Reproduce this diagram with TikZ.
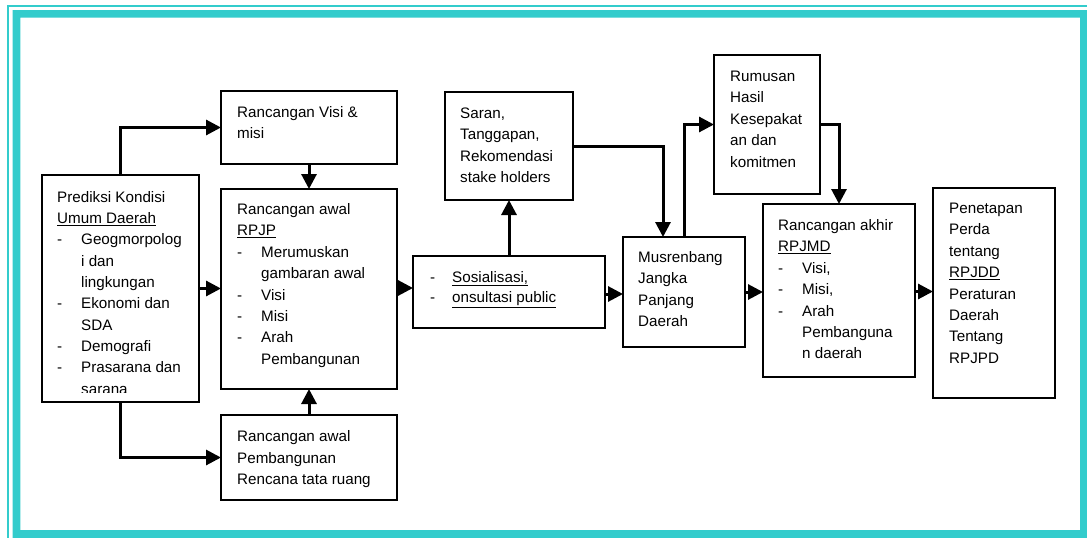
\documentclass[tikz,border=0pt]{standalone}
\usepackage{fontspec}
\setmainfont{Liberation Sans}
\usetikzlibrary{arrows.meta}
\definecolor{bordc}{RGB}{51,204,204}
\newcommand{\itm}{\makebox[24pt][l]{-}}
\newcommand{\ind}{\hspace*{24pt}}
\tikzset{
  box/.style={draw, line width=2.6pt, inner sep=0pt, outer sep=0pt},
  txt/.style={anchor=north west, inner sep=0pt, align=left, font=\fontsize{15.2}{21.35}\selectfont},
  arr/.style={line width=3pt, -{Triangle[length=15pt,width=15pt]}},
}
\begin{document}
\begin{tikzpicture}[x=1pt,y=-1pt]
\useasboundingbox (0,0) rectangle (1087,538);
\fill[white] (0,0) rectangle (1087,538);
% border
\fill[bordc, even odd rule] (12.7,10) rectangle (1087,538) (20.3,17.7) rectangle (1080,530);
\draw[bordc, line width=2.5pt] (8.2,538) -- (8.2,6) -- (1087,6);

% boxes
\node[box, minimum width=157pt, minimum height=227pt] (pred) at (120.5,288.5) {};
\node[box, minimum width=176pt, minimum height=73pt] (visi) at (309,127.5) {};
\node[box, minimum width=176pt, minimum height=200pt] (rpjp) at (309,289) {};
\node[box, minimum width=176pt, minimum height=85pt] (rtr) at (309,457.5) {};
\node[box, minimum width=128pt, minimum height=108pt] (saran) at (509,146) {};
\node[box, minimum width=192pt, minimum height=72pt] (sos) at (509,292) {};
\node[box, minimum width=122pt, minimum height=110pt] (mus) at (684,292) {};
\node[box, minimum width=106pt, minimum height=139pt] (rum) at (767,124.5) {};
\node[box, minimum width=152pt, minimum height=173pt] (akhir) at (839,290.5) {};
\node[box, minimum width=122pt, minimum height=210pt] (pen) at (994,293) {};

% texts
\begin{scope}
\clip (42,175) rectangle (199,392);
\node[txt] (predt) at (57,187) {\strut Prediksi Kondisi\\ \underline{Umum Daerah}\\ \itm Geogmorpolog\\ \ind i dan\\ \ind lingkungan\\ \itm Ekonomi dan\\ \ind SDA\\ \itm Demografi\\ \itm Prasarana dan\\ \ind sarana};
\end{scope}
\node[txt] (visit) at (237,102.5) {\strut Rancangan Visi \&\\ misi};
\node[txt] (rpjpt) at (237,199.5) {\strut Rancangan awal\\ \underline{RPJP}\\ \itm Merumuskan\\ \ind gambaran awal\\ \itm Visi\\ \itm Misi\\ \itm Arah\\ \ind Pembangunan};
\node[txt] (rtrt) at (237,426.5) {\strut Rancangan awal\\ Pembangunan\\ Rencana tata ruang};
\node[txt] (sarant) at (460,103.5) {\strut Saran,\\ Tanggapan,\\ Rekomendasi\\ stake holders};
\node[txt, font=\fontsize{15.2}{20.5}\selectfont] (sost) at (430,267.5) {\strut\makebox[22pt][l]{-}\underline{Sosialisasi,}\\ \makebox[22pt][l]{-}\underline{onsultasi public}};
\node[txt] (must) at (638,247.5) {\strut Musrenbang\\ Jangka\\ Panjang\\ Daerah};
\node[txt] (rumt) at (730,66.5) {\strut Rumusan\\ Hasil\\ Kesepakat\\ an dan\\ komitmen};
\node[txt] (akhirt) at (778,215.5) {\strut Rancangan akhir\\ \underline{RPJMD}\\ \itm Visi,\\ \itm Misi,\\ \itm Arah\\ \ind Pembanguna\\ \ind n daerah};
\node[txt] (pent) at (949,198.5) {\strut Penetapan\\ Perda\\ tentang\\ \underline{RPJDD}\\ Peraturan\\ Daerah\\ Tentang\\ RPJPD};

% connectors
\draw[arr] (pred.north) |- (visi.west);
\draw[arr] (pred.east) -- (pred.east -| rpjp.west);
\draw[arr] (pred.south) |- (rtr.west);
\draw[arr] (visi.south) -- (rpjp.north);
\draw[arr] (rtr.north) -- (rpjp.south);
\draw[arr] ([yshift=1pt]rpjp.east) -- ([yshift=1pt]rpjp.east -| sos.west);
\draw[arr] (sos.north) -- (saran.south);
\draw[arr] ([yshift=-2pt]sos.east) -- ([yshift=-2pt]sos.east -| mus.west);
\coordinate (sm) at ([xshift=40pt]mus.north west);
\draw[arr] (saran.east) -| (sm);
\draw[arr] (mus.north) |- (rum.west);
\draw[arr] (rum.east) -| (akhir.north);
\draw[arr] (mus.east) -- (mus.east -| akhir.west);
\draw[arr] ([yshift=-1pt]akhir.east) -- ([yshift=-1pt]akhir.east -| pen.west);
\end{tikzpicture}
\end{document}
